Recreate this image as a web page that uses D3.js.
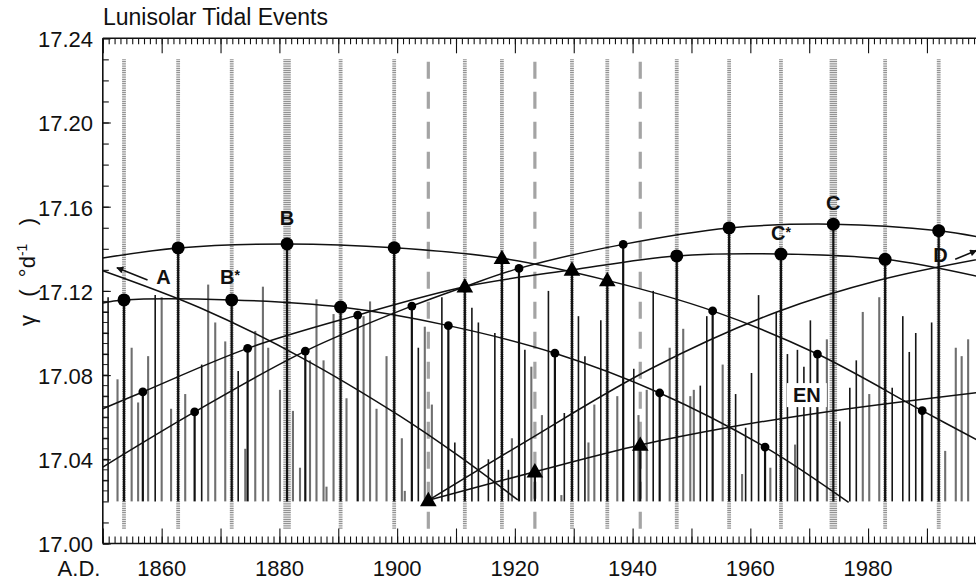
<!DOCTYPE html>
<html><head><meta charset="utf-8">
<script src="https://cdnjs.cloudflare.com/ajax/libs/d3/7.8.5/d3.min.js"></script>
<style>
body{margin:0;background:#fff}
svg{display:block}
text{font-family:"Liberation Sans",Arial,Helvetica,sans-serif;fill:#111}
</style>
</head><body>
<svg id="c" width="976" height="581"></svg>
<script>
// ---------- DATA ----------
const xTickLabels = [1860, 1880, 1900, 1920, 1940, 1960, 1980];
const yTickLabels = [17.00, 17.04, 17.08, 17.12, 17.16, 17.20, 17.24];

// tidal event years (tall shaded verticals)
const eventYears = [1853.6, 1862.8, 1871.9, 1881.3, 1890.4, 1899.5, 1905.3, 1911.5, 1917.8, 1923.4, 1929.7, 1935.7, 1941.3, 1947.5, 1956.4, 1965.2, 1974.1, 1982.9, 1992.0];
const eventKind  = ['s','s','s','w','s','s','d','s','s','d','s','s','d','s','s','s','w','s','s'];

// large circles (events)
const bigYears = [1853.6, 1862.8, 1871.9, 1881.3, 1890.4, 1899.5, 1947.5, 1956.4, 1965.2, 1974.1, 1982.9, 1992.0];
const bigVals  = [17.1157, 17.1404, 17.1157, 17.1423, 17.1123, 17.1405, 17.1366, 17.1499, 17.1375, 17.1517, 17.1350, 17.1486];

// small circles
const smallYears = [1856.8, 1865.6, 1874.6, 1884.4, 1893.3, 1902.5, 1908.7, 1920.7, 1926.8, 1938.4, 1944.6, 1953.6, 1962.5, 1971.4, 1989.2];
const smallVals  = [17.0720, 17.0625, 17.0927, 17.0914, 17.1085, 17.1128, 17.1035, 17.1307, 17.0904, 17.1421, 17.0715, 17.1105, 17.0458, 17.0900, 17.0631];

// triangles
const triYears = [1905.3, 1911.5, 1917.8, 1923.4, 1929.7, 1935.7, 1941.3];
const triVals  = [17.0205, 17.1220, 17.1355, 17.0341, 17.1300, 17.1250, 17.0468];

// other tidal spikes
const barYears = [1850.9,1852.5,1854.9,1856.0,1857.7,1858.9,1860.0,1861.6,1864.0,1866.8,1867.9,1869.1,1870.8,1873.0,1874.2,1875.9,1877.2,1878.1,1880.1,1882.3,1883.5,1885.2,1886.3,1887.5,1888.0,1889.2,1891.4,1894.3,1895.4,1896.5,1898.2,
 1900.8,1901.3,1903.6,1904.7,1905.9,1907.6,1909.8,1912.7,1913.8,1915.5,1916.6,1918.9,1919.5,1921.7,1922.8,1924.6,1925.7,1927.9,1928.4,1930.8,1931.9,1932.5,1933.5,1934.6,1937.4,1940.2,1941.0,1942.4,1943.5,1946.3,1948.6,
 1949.8,1950.4,1951.5,1952.6,1955.3,1957.5,1958.6,1959.2,1960.2,1961.4,1963.4,1964.4,1966.3,1967.6,1968.0,1969.1,1970.2,1973.0,1975.2,1976.9,1978.0,1979.1,1980.2,1981.9,1984.1,1985.9,1987.0,1988.1,1990.8,1993.1,1994.9,1995.9,1997.0];
const barVals = [17.117,17.078,17.093,17.067,17.089,17.118,17.117,17.064,17.071,17.085,17.123,17.105,17.096,17.082,17.045,17.101,17.122,17.093,17.073,17.063,17.036,17.087,17.116,17.087,17.027,17.109,17.069,17.108,17.115,17.064,17.089,
 17.050,17.025,17.093,17.103,17.066,17.117,17.048,17.112,17.105,17.040,17.100,17.035,17.050,17.092,17.084,17.061,17.120,17.023,17.062,17.108,17.089,17.048,17.066,17.106,17.070,17.083,17.061,17.073,17.120,17.093,17.102,
 17.070,17.073,17.075,17.108,17.085,17.071,17.033,17.055,17.081,17.118,17.036,17.110,17.090,17.047,17.092,17.084,17.106,17.097,17.058,17.074,17.087,17.110,17.071,17.117,17.074,17.108,17.091,17.100,17.105,17.044,17.093,17.089,17.097];
const barTone = ['d','g','g','g','g','d','g','g','g','d','g','g','g','d','g','g','g','g','g','g','g','g','g','g','g','g','g','g','g','g','g',
 'g','g','d','g','g','d','d','d','d','d','d','d','g','d','g','g','d','g','d','d','d','g','g','d','g','d','g','g','d','g','g',
 'g','g','d','d','g','d','g','d','d','d','g','d','d','g','d','d','d','g','d','d','d','g','g','g','d','d','d','d','d','g','g','g','g'];

// curves
const curveAYears = [1850, 1866.5, 1883.5, 1900.5, 1910.7, 1920.5];
const curveAVals  = [17.1296, 17.1120, 17.0887, 17.0605, 17.0411, 17.0207];
const curveBYears = [1850, 1862.8, 1881.3, 1899.5, 1917.8, 1935.7, 1953.6, 1971.4, 1989.2, 2000];
const curveBVals  = [17.1356, 17.1404, 17.1423, 17.1405, 17.1355, 17.1250, 17.1105, 17.0900, 17.0631, 17.0470];
const curveBsYears = [1850, 1853.6, 1871.9, 1890.4, 1908.7, 1926.8, 1944.6, 1962.5, 1976.7];
const curveBsVals  = [17.1143, 17.1157, 17.1157, 17.1123, 17.1035, 17.0904, 17.0715, 17.0458, 17.0195];
const curveCYears = [1850, 1865.6, 1884.4, 1902.5, 1911.5, 1920.7, 1938.4, 1956.4, 1974.1, 1992.0, 2000];
const curveCVals  = [17.0363, 17.0625, 17.0914, 17.1128, 17.1220, 17.1307, 17.1421, 17.1499, 17.1517, 17.1486, 17.1450];
const curveCsYears = [1850, 1856.8, 1874.6, 1893.3, 1911.5, 1929.7, 1947.5, 1965.2, 1982.9, 2000];
const curveCsVals  = [17.0640, 17.0720, 17.0927, 17.1085, 17.1220, 17.1300, 17.1366, 17.1375, 17.1350, 17.1260];
const curveDYears = [1905.3, 1921.4, 1943.0, 1964.5, 1982.0, 2000];
const curveDVals  = [17.0205, 17.0477, 17.0829, 17.1100, 17.1252, 17.1357];
const curveTYears = [1905.3, 1923.4, 1941.3, 1956.2, 1974.0, 2000];
const curveTVals  = [17.0205, 17.0341, 17.0468, 17.0551, 17.0630, 17.0722];

// annotation labels
const labelText  = ['A', 'B', 'B', 'C', 'C', 'D', 'EN'];
const labelStar  = [false, false, true, false, true, false, false];
const labelYears = [1860.3, 1881.3, 1871.6, 1974.1, 1965.2, 1992.3, 1969.6];
const labelVals  = [17.1266, 17.1546, 17.1268, 17.1618, 17.1475, 17.1370, 17.0705];
const arrowFrom = [[1857.6, 17.1252], [1994.8, 17.1350]];
const arrowTo   = [[1852.4, 17.1310], [1998.4, 17.1392]];

// ---------- CHART ----------
const svg = d3.select('#c');
const x = d3.scaleLinear().domain([1850, 2000]).range([102.8, 985.8]);
const y = d3.scaleLinear().domain([17.00, 17.24]).range([543.5, 38.3]);
const base = 17.02;

const defs = svg.append('defs');
defs.append('marker').attr('id','ah').attr('viewBox','0 0 10 10').attr('refX',9).attr('refY',5)
  .attr('markerWidth',9).attr('markerHeight',7).attr('markerUnits','userSpaceOnUse').attr('orient','auto')
  .append('path').attr('d','M0,0L10,5L0,10z').attr('fill','#111');

const g = svg.append('g');

// tall event verticals (halftone)
g.selectAll('line.ev').data(eventYears).join('line')
  .attr('x1', d => x(d)).attr('x2', d => x(d))
  .attr('y1', y(17.007)).attr('y2', y(17.23))
  .attr('stroke', (d,i) => eventKind[i] === 'd' ? '#a4a4a4' : '#929292')
  .attr('stroke-width', (d,i) => eventKind[i] === 'w' ? 7.5 : (eventKind[i] === 'd' ? 3.2 : 3.8))
  .attr('stroke-dasharray', (d,i) => eventKind[i] === 'd' ? '17,13' : '1.3,0.9');

// spikes
g.selectAll('line.bar').data(barYears).join('line')
  .attr('x1', d => x(d)).attr('x2', d => x(d))
  .attr('y1', y(base)).attr('y2', (d,i) => y(barVals[i]))
  .attr('stroke', (d,i) => barTone[i] === 'd' ? '#161616' : '#6f6f6f')
  .attr('stroke-width', (d,i) => barTone[i] === 'd' ? 1.6 : 2.1);

// left-edge ladder ticks
g.selectAll('line.lad').data(d3.range(17.025, 17.117, 0.005)).join('line')
  .attr('x1', x(1850)).attr('x2', x(1850.9))
  .attr('y1', d => y(d)).attr('y2', d => y(d))
  .attr('stroke', '#222').attr('stroke-width', 1);

// stems for markers
const stemYears = bigYears.concat(smallYears, triYears);
const stemVals = bigVals.concat(smallVals, triVals);
g.selectAll('line.stem').data(stemYears).join('line')
  .attr('x1', d => x(d)).attr('x2', d => x(d))
  .attr('y1', y(base)).attr('y2', (d,i) => y(stemVals[i]))
  .attr('stroke', '#111').attr('stroke-width', 2.2);

// curves
const lineGen = d3.line().x(d => x(d[0])).y(d => y(d[1])).curve(d3.curveCatmullRom.alpha(0.5));
const curves = [[curveAYears, curveAVals], [curveBYears, curveBVals], [curveBsYears, curveBsVals],
  [curveCYears, curveCVals], [curveCsYears, curveCsVals], [curveDYears, curveDVals], [curveTYears, curveTVals]];
g.selectAll('path.cv').data(curves).join('path')
  .attr('d', c => lineGen(c[0].map((yr, i) => [yr, c[1][i]])))
  .attr('fill', 'none').attr('stroke', '#111').attr('stroke-width', 1.5);

// markers
g.selectAll('circle.big').data(bigYears).join('circle')
  .attr('cx', d => x(d)).attr('cy', (d,i) => y(bigVals[i])).attr('r', 6.5).attr('fill', '#000');
g.selectAll('circle.small').data(smallYears).join('circle')
  .attr('cx', d => x(d)).attr('cy', (d,i) => y(smallVals[i])).attr('r', 4.4).attr('fill', '#000');
const tri = d3.symbol().type(d3.symbolTriangle).size(120);
g.selectAll('path.tri').data(triYears).join('path')
  .attr('d', tri).attr('transform', (d,i) => `translate(${x(d)},${y(triVals[i]) + 1})`).attr('fill', '#000');

// arrows
g.selectAll('line.arr').data(arrowFrom).join('line')
  .attr('x1', d => x(d[0])).attr('y1', d => y(d[1]))
  .attr('x2', (d,i) => x(arrowTo[i][0])).attr('y2', (d,i) => y(arrowTo[i][1]))
  .attr('stroke', '#111').attr('stroke-width', 1.6).attr('marker-end', 'url(#ah)');

// labels
const lab = g.selectAll('g.lab').data(labelText).join('g')
  .attr('transform', (d,i) => `translate(${x(labelYears[i])},${y(labelVals[i])})`);
lab.each(function(d, i) {
  const sel = d3.select(this);
  if (d === 'EN') {
    sel.append('rect').attr('x', -20).attr('y', -12).attr('width', 40).attr('height', 24).attr('fill', '#fff');
  }
  const t = sel.append('text').attr('text-anchor', 'middle').attr('dy', '0.36em')
    .attr('font-size', 20).attr('font-weight', 'bold').text(d);
  if (labelStar[i]) t.append('tspan').attr('font-size', 14).attr('dy', '-0.25em').text('*');
});

// ---------- AXES ----------
const yrsAll = d3.range(1850, 2001, 1);
const yrsMaj = d3.range(1850, 2001, 10);
const ax = svg.append('g').attr('class', 'axes');
function styleAxis(s) {
  s.select('.domain').remove();
  s.selectAll('.tick line').attr('stroke', '#111').attr('stroke-width', 1.1);
  s.selectAll('.tick text').remove();
}
ax.append('g').attr('transform', `translate(0,${y(17.24)})`).call(d3.axisBottom(x).tickValues(yrsAll).tickSize(6)).call(styleAxis);
ax.append('g').attr('transform', `translate(0,${y(17.24)})`).call(d3.axisBottom(x).tickValues(yrsMaj).tickSize(15)).call(styleAxis);
ax.append('g').attr('transform', `translate(0,${y(17.00)})`).call(d3.axisTop(x).tickValues(yrsAll).tickSize(7)).call(styleAxis);
ax.append('g').attr('transform', `translate(0,${y(17.00)})`).call(d3.axisTop(x).tickValues(yrsMaj).tickSize(15)).call(styleAxis);
ax.append('g').attr('transform', `translate(${x(1850)},0)`).call(d3.axisRight(y).tickValues(d3.range(17.00, 17.2401, 0.01)).tickSize(6)).call(styleAxis);
ax.append('g').attr('transform', `translate(${x(1850)},0)`).call(d3.axisRight(y).tickValues(yTickLabels).tickSize(8)).call(styleAxis);
// frame lines
ax.append('line').attr('x1', x(1850)).attr('x2', x(2000)).attr('y1', y(17.24)).attr('y2', y(17.24)).attr('stroke', '#111').attr('stroke-width', 1.6);
ax.append('line').attr('x1', x(1850)).attr('x2', x(2000)).attr('y1', y(17.00)).attr('y2', y(17.00)).attr('stroke', '#111').attr('stroke-width', 1.6);
ax.append('line').attr('x1', x(1850)).attr('x2', x(1850)).attr('y1', y(17.00)).attr('y2', y(17.24)).attr('stroke', '#111').attr('stroke-width', 1.6);

// tick labels
ax.selectAll('text.yl').data(yTickLabels).join('text')
  .attr('x', 93).attr('y', d => y(d) + 1).attr('dy', '0.36em').attr('text-anchor', 'end')
  .attr('font-size', 22).text(d => d.toFixed(2));
ax.selectAll('text.xl').data(xTickLabels).join('text')
  .attr('x', d => x(d)).attr('y', 576).attr('text-anchor', 'middle')
  .attr('font-size', 22).text(d => d);
ax.append('text').attr('x', 79).attr('y', 576).attr('text-anchor', 'middle').attr('font-size', 22).text('A.D.');

// title
svg.append('text').attr('x', 103).attr('y', 25).attr('font-size', 23).text('Lunisolar Tidal Events');

// y-axis title
const NB = '\u00a0';
const yt = svg.append('text').attr('transform', 'translate(35,272) rotate(-90)').attr('text-anchor', 'middle').attr('font-size', 22);
yt.append('tspan').text('γ' + NB + NB + NB + '(' + NB + NB + '°d');
yt.append('tspan').attr('font-size', 14).attr('dy', '-0.6em').text('-1');
yt.append('tspan').attr('dy', '0.4em').text(NB + NB + NB + ')');
</script>
</body></html>
